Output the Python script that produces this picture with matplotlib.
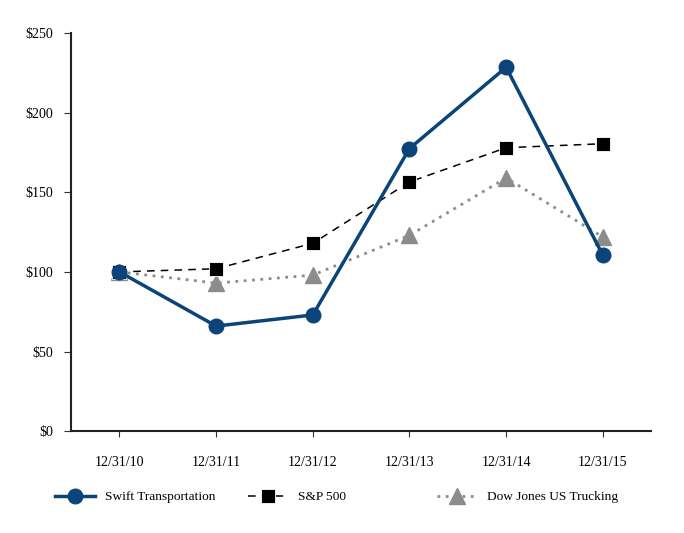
import matplotlib.pyplot as plt
import numpy as np

plt.rcParams['font.family'] = ['Liberation Serif', 'DejaVu Serif']

# data
dates = ['12/31/10', '12/31/11', '12/31/12', '12/31/13', '12/31/14', '12/31/15']
swift = [100, 66, 73, 177.5, 228.5, 110.5]
sp500 = [100, 102, 118, 156.5, 178, 180.5]
dowjones = [100, 93, 98, 123, 159, 122]
yticks = [0, 50, 100, 150, 200, 250]

x = np.arange(len(dates))

fig = plt.figure(figsize=(6.84, 5.33), dpi=100)
ax = fig.add_axes([0.104, 0.191, 0.848, 0.747])

l_dow, = ax.plot(x, dowjones, color='#8c8c8c', ls=(0, (1, 2)), lw=2, marker='^', ms=11,
                 markeredgecolor='#8c8c8c', label='Dow Jones US Trucking', zorder=2)
l_sp, = ax.plot(x, sp500, color='black', ls=(0, (5, 4)), lw=1.1, marker='s', ms=10.5,
                markeredgecolor='white', markeredgewidth=0.6, label='S&P 500', zorder=3)
l_sw, = ax.plot(x, swift, color='#0b4478', lw=2.5, marker='o', ms=10.5,
                label='Swift Transportation', zorder=4)

ax.set_xlim(-0.5, 5.5)
ax.set_ylim(0, 250)
ax.set_xticks(x)
ax.set_xticklabels(dates)
ax.set_yticks(yticks)
ax.set_yticklabels(['$%d' % v for v in yticks])
ax.tick_params(labelsize=10, color='#333333', length=4, width=0.8, pad=14, axis='x')
ax.tick_params(labelsize=10, color='#333333', length=5, width=0.8, pad=8, axis='y')
for s in ['top', 'right']:
    ax.spines[s].set_visible(False)
for s in ['left', 'bottom']:
    ax.spines[s].set_linewidth(1.5)
    ax.spines[s].set_color('#222222')

# three separate legend entries, placed like the original
for line, xpos in [(l_sw, 0.080), (l_sp, 0.3626), (l_dow, 0.639)]:
    fig.legend([line], [line.get_label()], loc='center left', bbox_to_anchor=(xpos, 0.0675),
               frameon=False, fontsize=9.6, handlelength=3.0, handletextpad=0.75,
               borderpad=0, borderaxespad=0)

fig.savefig('out.png', dpi=100)
